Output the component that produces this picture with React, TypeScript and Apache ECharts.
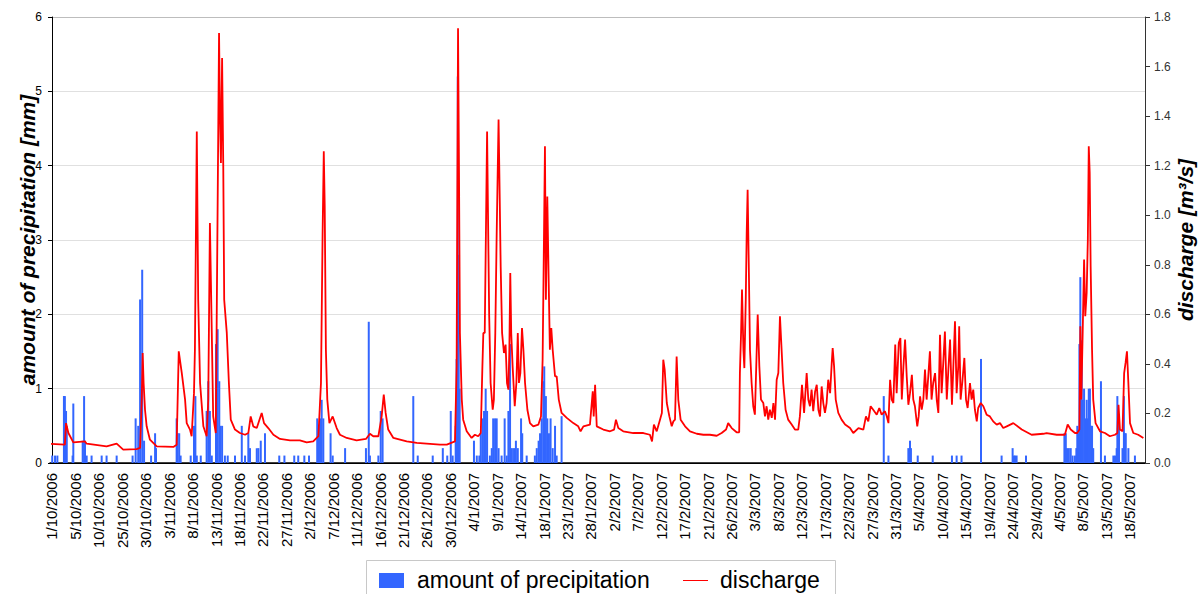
import React, { useEffect, useRef } from "react";
import * as echarts from "echarts";

// X positions are in "tick-label index" units (0 = 1/10/2006 tick, 46 = 18/5/2007 tick)
const tickLabels = [
  "1/10/2006", "5/10/2006", "10/10/2006", "25/10/2006", "30/10/2006", "3/11/2006",
  "8/11/2006", "13/11/2006", "18/11/2006", "22/11/2006", "27/11/2006", "2/12/2006",
  "7/12/2006", "11/12/2006", "16/12/2006", "21/12/2006", "26/12/2006", "30/12/2006",
  "4/1/2007", "9/1/2007", "14/1/2007", "18/1/2007", "23/1/2007", "28/1/2007",
  "2/2/2007", "7/2/2007", "12/2/2007", "17/2/2007", "21/2/2007", "26/2/2007",
  "3/3/2007", "8/3/2007", "12/3/2007", "17/3/2007", "22/3/2007", "27/3/2007",
  "31/3/2007", "5/4/2007", "10/4/2007", "15/4/2007", "19/4/2007", "24/4/2007",
  "29/4/2007", "4/5/2007", "8/5/2007", "13/5/2007", "18/5/2007",
];

// precipitation [position, mm]
const precipitation: [number, number][] = [
  [0.01, 0.1], [0.13, 0.1], [0.23, 0.1], [0.51, 0.9], [0.55, 0.9], [0.6, 0.7], [0.63, 0.5],
  [0.88, 0.1], [0.91, 0.8], [1.31, 0.3], [1.37, 0.9], [1.41, 0.3], [1.48, 0.1], [1.69, 0.1],
  [2.12, 0.1], [2.33, 0.1], [2.76, 0.1], [3.44, 0.1], [3.57, 0.6], [3.68, 0.5], [3.76, 2.2],
  [3.85, 2.6], [3.93, 0.3], [4.23, 0.1], [4.4, 0.4], [4.44, 0.2], [5.32, 0.6], [5.36, 0.4],
  [5.43, 0.4], [5.49, 0.1], [5.92, 0.1], [6.06, 0.5], [6.12, 0.9], [6.18, 0.1], [6.35, 0.1],
  [6.6, 0.7], [6.67, 1.1], [6.74, 0.7], [6.82, 0.1], [7.0, 1.6], [7.07, 1.8], [7.14, 1.1],
  [7.18, 0.5], [7.26, 0.5], [7.38, 0.1], [7.5, 0.1], [7.81, 0.1], [8.1, 0.5], [8.24, 0.1],
  [8.38, 0.4], [8.45, 0.2], [8.74, 0.2], [8.81, 0.2], [8.91, 0.3], [9.09, 0.4], [9.7, 0.1],
  [9.92, 0.1], [10.34, 0.1], [10.51, 0.1], [10.77, 0.1], [10.97, 0.1], [11.32, 0.6],
  [11.38, 0.4], [11.44, 0.6], [11.51, 0.85], [11.58, 0.6], [11.89, 0.4], [11.98, 0.1],
  [12.51, 0.2], [13.4, 0.2], [13.52, 1.9], [13.57, 0.1], [13.93, 0.1], [14.03, 0.7],
  [14.11, 0.6], [15.42, 0.9], [15.61, 0.1], [16.25, 0.1], [16.68, 0.2], [16.87, 0.1],
  [17.02, 0.7], [17.1, 0.1], [17.23, 0.5], [17.27, 1.4], [17.32, 5.2], [17.36, 2.8],
  [17.4, 1.0], [18.01, 0.3], [18.13, 0.1], [18.24, 0.1], [18.3, 0.4], [18.37, 0.6],
  [18.44, 0.7], [18.51, 1.0], [18.57, 0.7], [18.69, 0.1], [18.77, 0.2], [18.83, 0.6],
  [18.91, 0.6], [18.98, 0.6], [19.06, 0.2], [19.19, 0.1], [19.32, 0.6], [19.41, 0.1],
  [19.48, 0.7], [19.55, 1.6], [19.63, 0.2], [19.72, 0.2], [19.8, 0.3], [19.88, 0.2],
  [20.02, 0.6], [20.07, 0.4], [20.26, 0.1], [20.61, 0.1], [20.69, 0.2], [20.77, 0.3],
  [20.83, 0.4], [20.9, 0.6], [20.97, 1.1], [21.01, 1.3], [21.08, 0.9], [21.14, 0.6],
  [21.21, 0.4], [21.28, 0.6], [21.37, 0.2], [21.47, 0.5], [21.54, 0.1], [21.75, 0.63],
  [35.5, 0.9], [35.7, 0.1], [36.55, 0.2], [36.62, 0.3], [36.66, 0.2], [36.95, 0.1],
  [37.59, 0.1], [38.41, 0.1], [38.61, 0.1], [38.82, 0.1], [39.65, 1.4], [40.53, 0.1],
  [41.0, 0.2], [41.06, 0.1], [41.11, 0.1], [41.17, 0.1], [41.57, 0.1], [43.21, 0.4],
  [43.27, 0.4], [43.32, 0.2], [43.4, 0.2], [43.48, 0.2], [43.56, 0.1], [43.66, 0.1],
  [43.72, 0.2], [43.76, 0.5], [43.8, 0.4], [43.85, 1.6], [43.89, 2.5], [43.95, 1.65],
  [43.99, 0.85], [44.05, 1.0], [44.1, 0.6], [44.16, 0.85], [44.21, 0.6], [44.25, 1.0],
  [44.3, 1.0], [44.35, 0.5], [44.39, 0.5], [44.44, 0.2], [44.77, 1.1], [44.94, 0.1],
  [45.3, 0.1], [45.37, 0.1], [45.44, 0.2], [45.47, 0.9], [45.54, 0.6], [45.69, 0.2],
  [45.75, 0.9], [45.79, 0.4], [45.83, 0.4], [45.94, 0.2], [46.22, 0.1],
];

// discharge [position, m3/s]
const discharge: [number, number][] = [
  [-0.04, 0.077], [0.55, 0.074], [0.6, 0.161], [0.7, 0.121], [0.91, 0.083], [1.41, 0.087],
  [1.48, 0.078], [2.33, 0.067], [2.76, 0.078], [3.04, 0.054], [3.61, 0.056], [3.76, 0.061],
  [3.83, 0.256], [3.87, 0.444], [3.91, 0.323], [3.97, 0.215], [4.04, 0.148], [4.18, 0.094],
  [4.47, 0.067], [5.18, 0.065], [5.32, 0.074], [5.41, 0.451], [5.54, 0.363], [5.68, 0.256],
  [5.75, 0.161], [5.89, 0.135], [5.96, 0.108], [6.06, 0.282], [6.1, 0.457], [6.18, 1.338],
  [6.24, 0.659], [6.32, 0.323], [6.46, 0.148], [6.6, 0.108], [6.67, 0.256], [6.74, 0.969],
  [6.82, 0.525], [6.88, 0.188], [6.99, 0.121], [7.06, 0.928], [7.13, 1.735], [7.17, 1.399],
  [7.21, 1.211], [7.26, 1.634], [7.31, 1.197], [7.35, 0.659], [7.46, 0.525], [7.55, 0.323],
  [7.63, 0.175], [7.81, 0.135], [8.02, 0.121], [8.24, 0.114], [8.38, 0.121], [8.48, 0.188],
  [8.59, 0.148], [8.74, 0.141], [8.95, 0.202], [9.05, 0.161], [9.23, 0.141], [9.45, 0.114],
  [9.73, 0.097], [10.16, 0.091], [10.58, 0.091], [10.87, 0.083], [11.15, 0.087],
  [11.37, 0.108], [11.48, 0.323], [11.55, 0.928], [11.6, 1.258], [11.64, 1.036],
  [11.69, 0.457], [11.75, 0.256], [11.84, 0.161], [11.98, 0.188], [12.15, 0.141],
  [12.29, 0.114], [12.58, 0.101], [13.0, 0.091], [13.4, 0.097], [13.57, 0.118],
  [13.71, 0.108], [13.93, 0.108], [14.07, 0.188], [14.16, 0.276], [14.24, 0.202],
  [14.35, 0.135], [14.57, 0.101], [15.14, 0.087], [15.57, 0.081], [15.99, 0.078],
  [16.56, 0.074], [16.85, 0.074], [17.2, 0.087], [17.27, 0.39], [17.33, 1.755],
  [17.37, 1.197], [17.41, 0.525], [17.49, 0.256], [17.55, 0.175], [17.7, 0.128],
  [17.91, 0.101], [18.05, 0.114], [18.19, 0.108], [18.3, 0.121], [18.37, 0.39],
  [18.41, 0.525], [18.47, 0.525], [18.52, 0.928], [18.57, 1.338], [18.61, 0.995],
  [18.66, 0.592], [18.72, 0.323], [18.81, 0.215], [18.86, 0.256], [18.92, 0.525],
  [18.98, 0.928], [19.06, 1.386], [19.11, 1.063], [19.15, 0.794], [19.21, 0.525],
  [19.29, 0.444], [19.36, 0.478], [19.42, 0.323], [19.48, 0.296], [19.52, 0.457],
  [19.56, 0.767], [19.6, 0.525], [19.66, 0.39], [19.75, 0.229], [19.82, 0.323],
  [19.88, 0.525], [19.93, 0.323], [19.99, 0.363], [20.06, 0.545], [20.12, 0.457],
  [20.19, 0.323], [20.29, 0.215], [20.4, 0.161], [20.54, 0.148], [20.76, 0.155],
  [20.87, 0.188], [20.94, 0.417], [21.0, 0.928], [21.04, 1.278], [21.08, 0.659],
  [21.14, 1.076], [21.2, 0.726], [21.25, 0.457], [21.31, 0.545], [21.37, 0.457],
  [21.47, 0.35], [21.54, 0.35], [21.63, 0.256], [21.75, 0.202], [21.97, 0.182],
  [22.25, 0.161], [22.46, 0.148], [22.56, 0.128], [22.68, 0.148], [22.96, 0.155],
  [23.08, 0.289], [23.12, 0.188], [23.18, 0.316], [23.25, 0.148], [23.53, 0.135],
  [23.82, 0.128], [23.99, 0.135], [24.07, 0.175], [24.17, 0.141], [24.38, 0.128],
  [24.81, 0.121], [25.24, 0.121], [25.52, 0.114], [25.61, 0.087], [25.69, 0.155],
  [25.81, 0.128], [25.95, 0.175], [26.03, 0.202], [26.09, 0.417], [26.15, 0.377],
  [26.24, 0.242], [26.35, 0.188], [26.45, 0.148], [26.52, 0.168], [26.59, 0.175],
  [26.66, 0.43], [26.73, 0.256], [26.83, 0.175], [27.02, 0.148], [27.23, 0.128],
  [27.52, 0.118], [27.8, 0.114], [28.08, 0.114], [28.37, 0.11], [28.58, 0.121],
  [28.77, 0.135], [28.86, 0.161], [29.01, 0.141], [29.22, 0.124], [29.33, 0.124],
  [29.36, 0.363], [29.41, 0.525], [29.45, 0.7], [29.51, 0.457], [29.55, 0.383],
  [29.61, 0.659], [29.65, 0.928], [29.69, 1.103], [29.74, 0.794], [29.79, 0.457],
  [29.86, 0.323], [29.93, 0.229], [30.0, 0.195], [30.05, 0.363], [30.12, 0.599],
  [30.19, 0.39], [30.26, 0.256], [30.36, 0.242], [30.43, 0.188], [30.5, 0.229],
  [30.57, 0.175], [30.64, 0.215], [30.72, 0.182], [30.79, 0.242], [30.86, 0.175],
  [30.93, 0.336], [31.0, 0.363], [31.07, 0.592], [31.14, 0.457], [31.21, 0.323],
  [31.31, 0.215], [31.42, 0.175], [31.57, 0.155], [31.71, 0.135], [31.85, 0.135],
  [31.92, 0.188], [32.01, 0.316], [32.1, 0.202], [32.21, 0.363], [32.28, 0.256],
  [32.35, 0.229], [32.42, 0.296], [32.49, 0.209], [32.57, 0.289], [32.64, 0.316],
  [32.71, 0.215], [32.78, 0.188], [32.85, 0.309], [32.92, 0.242], [32.99, 0.202],
  [33.06, 0.242], [33.13, 0.336], [33.21, 0.282], [33.28, 0.404], [33.32, 0.464],
  [33.38, 0.39], [33.45, 0.256], [33.56, 0.202], [33.7, 0.175], [33.85, 0.155],
  [34.06, 0.141], [34.2, 0.121], [34.42, 0.141], [34.63, 0.135], [34.74, 0.188],
  [34.84, 0.168], [34.94, 0.229], [35.05, 0.215], [35.2, 0.195], [35.31, 0.222],
  [35.41, 0.195], [35.55, 0.209], [35.63, 0.188], [35.7, 0.161], [35.77, 0.336],
  [35.84, 0.256], [35.91, 0.242], [35.99, 0.478], [36.05, 0.282], [36.14, 0.484],
  [36.21, 0.504], [36.27, 0.256], [36.34, 0.39], [36.41, 0.498], [36.48, 0.35],
  [36.55, 0.235], [36.62, 0.282], [36.7, 0.356], [36.76, 0.256], [36.83, 0.229],
  [36.93, 0.148], [36.99, 0.188], [37.05, 0.269], [37.12, 0.215], [37.19, 0.256],
  [37.26, 0.377], [37.33, 0.256], [37.4, 0.35], [37.47, 0.451], [37.54, 0.256],
  [37.61, 0.323], [37.69, 0.363], [37.76, 0.256], [37.83, 0.202], [37.9, 0.518],
  [37.97, 0.282], [38.04, 0.404], [38.11, 0.531], [38.19, 0.256], [38.25, 0.363],
  [38.33, 0.498], [38.41, 0.235], [38.47, 0.39], [38.54, 0.572], [38.61, 0.282],
  [38.68, 0.39], [38.72, 0.552], [38.78, 0.256], [38.85, 0.323], [38.94, 0.424],
  [39.01, 0.256], [39.08, 0.222], [39.18, 0.323], [39.25, 0.256], [39.32, 0.296],
  [39.39, 0.215], [39.47, 0.168], [39.53, 0.222], [39.64, 0.242], [39.75, 0.229],
  [39.89, 0.195], [40.03, 0.188], [40.17, 0.168], [40.32, 0.155], [40.46, 0.161],
  [40.6, 0.141], [40.75, 0.148], [41.03, 0.161], [41.39, 0.135], [41.81, 0.114],
  [42.31, 0.118], [42.45, 0.121], [42.88, 0.114], [43.23, 0.114], [43.35, 0.155],
  [43.48, 0.135], [43.66, 0.121], [43.76, 0.121], [43.85, 0.135], [43.89, 0.552],
  [43.93, 0.256], [43.99, 0.525], [44.05, 0.821], [44.1, 0.592], [44.16, 0.686],
  [44.21, 0.901], [44.25, 1.278], [44.29, 1.17], [44.33, 0.794], [44.39, 0.457],
  [44.44, 0.256], [44.54, 0.161], [44.73, 0.128], [44.94, 0.121], [45.15, 0.108],
  [45.37, 0.114], [45.47, 0.121], [45.52, 0.235], [45.58, 0.135], [45.69, 0.128],
  [45.76, 0.363], [45.82, 0.404], [45.88, 0.451], [45.94, 0.323], [46.01, 0.161],
  [46.15, 0.121], [46.36, 0.114], [46.58, 0.101],
];

const precipTicks = [0, 1, 2, 3, 4, 5, 6];
const dischargeTicks = [0, 0.2, 0.4, 0.6, 0.8, 1.0, 1.2, 1.4, 1.6, 1.8];

const FONT = "'Liberation Sans', Arial, Helvetica, sans-serif";
const BLUE = "#3366ff";
const RED = "#ff0000";

export default function App() {
  const ref = useRef<HTMLDivElement>(null);

  useEffect(() => {
    document.body.style.margin = "0";
    if (!ref.current) return;
    const chart = echarts.init(ref.current, null, { renderer: "svg" });
    const labelIdx = tickLabels.map((_, i) => i);
    chart.setOption({
      animation: false,
      backgroundColor: "#ffffff",
      textStyle: { fontFamily: FONT },
      grid: {
        left: 50,
        top: 17,
        width: 1095,
        height: 446,
        containLabel: false,
        outerBoundsMode: "none",
      },
      xAxis: {
        type: "value",
        min: -0.085,
        max: 46.65,
        axisLine: { show: true, onZero: false, lineStyle: { color: "#000", width: 1.5 } },
        axisTick: { show: false },
        splitLine: { show: false },
        axisLabel: {
          customValues: labelIdx,
          formatter: (v: number) => tickLabels[Math.round(v)] ?? "",
          rotate: 90,
          fontSize: 15,
          color: "#000",
          margin: 10,
          fontFamily: FONT,
        },
      },
      yAxis: [
        {
          type: "value",
          min: precipTicks[0],
          max: precipTicks[precipTicks.length - 1],
          interval: 1,
          position: "left",
          name: "amount of precipitation [mm]",
          nameLocation: "middle",
          nameGap: 12,
          nameMoveOverlap: false,
          nameTextStyle: {
            fontSize: 21,
            fontWeight: "bold",
            fontStyle: "italic",
            color: "#000",
            fontFamily: FONT,
          },
          axisLine: { show: true, lineStyle: { color: "#000" } },
          axisTick: { show: true, length: 4, lineStyle: { color: "#000" } },
          axisLabel: { fontSize: 12, color: "#000", margin: 8, fontFamily: FONT },
          splitLine: {
            show: true,
            lineStyle: {
              color: ["#000", "#e0e0e0", "#e0e0e0", "#e0e0e0", "#e0e0e0", "#e0e0e0", "#bdbdbd"],
              width: 1,
            },
          },
        },
        {
          type: "value",
          min: dischargeTicks[0],
          max: dischargeTicks[dischargeTicks.length - 1],
          interval: 0.2,
          position: "right",
          name: "discharge [m³/s]",
          nameLocation: "middle",
          nameGap: 30,
          nameRotate: 90,
          nameMoveOverlap: false,
          nameTextStyle: {
            fontSize: 21,
            fontWeight: "bold",
            fontStyle: "italic",
            color: "#000",
            fontFamily: FONT,
          },
          axisLine: { show: true, lineStyle: { color: "#333" } },
          axisTick: { show: true, length: 5, lineStyle: { color: "#333" } },
          axisLabel: {
            fontSize: 12,
            color: "#333",
            margin: 9,
            fontFamily: FONT,
            formatter: (v: number) => v.toFixed(1),
          },
          splitLine: { show: false },
        },
      ],
      series: [
        {
          name: "amount of precipitation",
          type: "bar",
          xAxisIndex: 0,
          yAxisIndex: 0,
          data: precipitation,
          barWidth: 2,
          itemStyle: { color: BLUE },
          z: 2,
        },
        {
          name: "discharge",
          type: "line",
          xAxisIndex: 0,
          yAxisIndex: 1,
          data: discharge,
          symbol: "none",
          showSymbol: false,
          lineStyle: { color: RED, width: 1.8 },
          z: 3,
        },
      ],
      graphic: [
        {
          type: "rect",
          shape: { x: 366.5, y: 560.5, width: 469, height: 50 },
          style: { fill: "#fff", stroke: "#c8c8c8", lineWidth: 1 },
        },
        {
          type: "rect",
          shape: { x: 379, y: 573, width: 25, height: 15 },
          style: { fill: BLUE },
        },
        {
          type: "text",
          x: 417,
          y: 580,
          style: {
            text: "amount of precipitation",
            fontSize: 23,
            fontFamily: FONT,
            fill: "#000",
            verticalAlign: "middle",
          },
        },
        {
          type: "line",
          shape: { x1: 683, y1: 580.5, x2: 708, y2: 580.5 },
          style: { stroke: RED, lineWidth: 1 },
        },
        {
          type: "text",
          x: 720,
          y: 580,
          style: {
            text: "discharge",
            fontSize: 23,
            fontFamily: FONT,
            fill: "#000",
            verticalAlign: "middle",
          },
        },
      ],
    });
    return () => chart.dispose();
  }, []);

  return <div ref={ref} style={{ width: 1199, height: 594 }} />;
}
